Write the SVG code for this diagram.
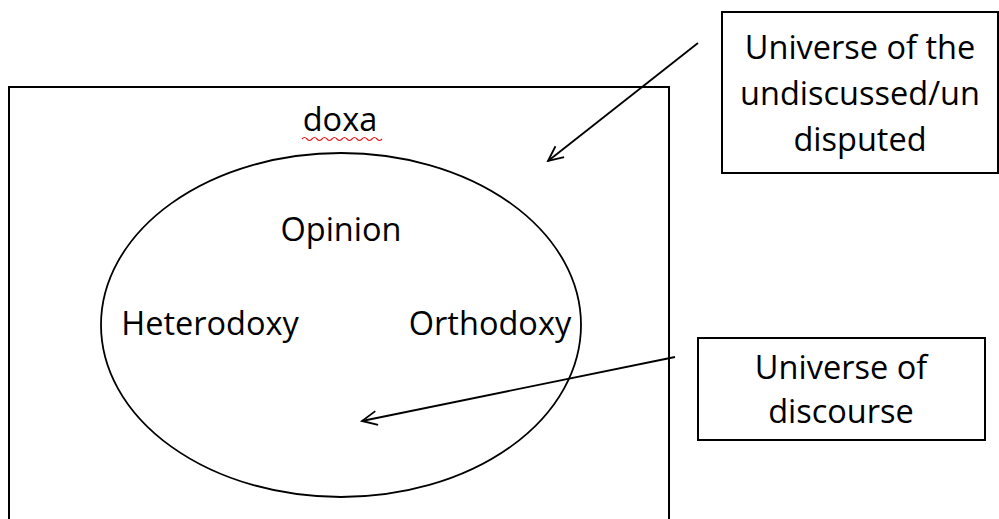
<svg xmlns="http://www.w3.org/2000/svg" width="999" height="519" viewBox="0 0 999 519">
<style>
.box{fill:#fff;stroke:#000;stroke-width:2}
.ln{fill:none;stroke:#000;stroke-width:1.8}
.t{font-family:"Open Sans","Liberation Sans",sans-serif;font-size:32.5px;fill:#000;text-anchor:middle}
</style>
<defs>
<marker id="ah" markerWidth="18" markerHeight="18" refX="16" refY="8" orient="auto" markerUnits="userSpaceOnUse">
<path d="M1,1 L16,8 L1,15" fill="none" stroke="#000" stroke-width="1.8"/>
</marker>
</defs>
<rect width="999" height="519" fill="#fff"/>
<g id="doxa">
<rect class="box" x="9" y="87" width="660" height="450"/>
<text class="t" x="340" y="131">doxa</text>
<path d="M302,139 q2.5,-3 5,0 t5,0 t5,0 t5,0 t5,0 t5,0 t5,0 t5,0 t5,0 t5,0 t5,0 t5,0 t5,0 t5,0 t5,0 t5,0" fill="none" stroke="#e02020" stroke-width="1.2"/>
</g>
<g id="opinion">
<ellipse class="ln" cx="341" cy="325" rx="240" ry="172"/>
<text class="t" x="341" y="241">Opinion</text>
<text class="t" x="210" y="335">Heterodoxy</text>
<text class="t" x="490" y="335">Orthodoxy</text>
</g>
<g id="undiscussed">
<rect class="box" x="722" y="12" width="276" height="161"/>
<text class="t" x="860" y="59">Universe of the</text>
<text class="t" x="860" y="105">undiscussed/un</text>
<text class="t" x="860" y="151">disputed</text>
</g>
<g id="discourse">
<rect class="box" x="698" y="338" width="287" height="102"/>
<text class="t" x="841" y="379">Universe of</text>
<text class="t" x="841" y="423">discourse</text>
</g>
<g id="connectors">
<line class="ln" x1="698" y1="43" x2="548" y2="161" marker-end="url(#ah)"/>
<line class="ln" x1="675" y1="357" x2="362" y2="421" marker-end="url(#ah)"/>
</g>
</svg>
